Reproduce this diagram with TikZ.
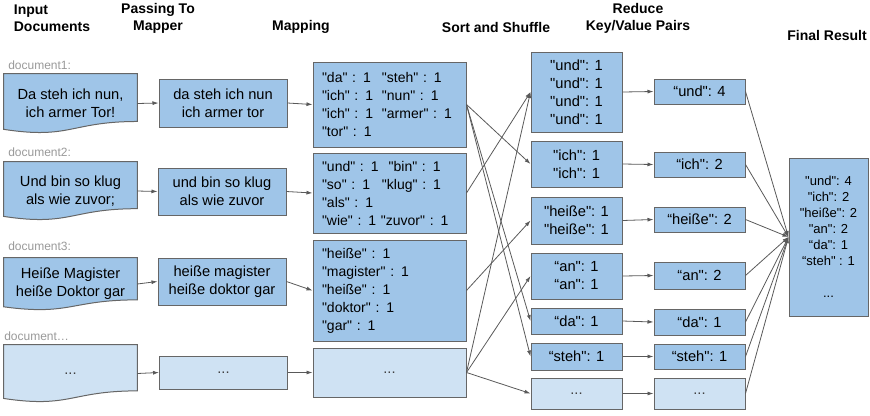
\documentclass[tikz,border=0pt]{standalone}
\usepackage{fontspec}
\setmainfont{Liberation Sans}[Ligatures=TeXOff]
\usetikzlibrary{arrows.meta,calc,backgrounds}
\definecolor{boxblue}{HTML}{9FC5E8}
\definecolor{boxpale}{HTML}{CFE2F3}
\definecolor{boxedge}{HTML}{666666}
\definecolor{linkgray}{HTML}{595959}
\definecolor{labelgray}{HTML}{999999}
\newcommand{\kv}[3]{\makebox[#1][l]{#2}#3}
\begin{document}
\begin{tikzpicture}[x=0.75pt, y=-0.75pt,
    wh/.style 2 args={minimum width=#1*0.75pt, minimum height=#2*0.75pt},
    head/.style={font=\bfseries\fontsize{10.5}{12.75}\selectfont, align=center},
    doclabel/.style={text=labelgray, font=\fontsize{9}{11}\selectfont, anchor=west, inner sep=0pt},
    docnode/.style={align=center, font=\fontsize{11}{13.5}\selectfont},
    docline/.style={draw=boxedge, line width=0.75pt},
    docpath/.style={insert path={(#1.north west) -- (#1.north east) -- ($(#1.north east)!0.802!(#1.south east)$) .. controls ($(#1.north)!0.802!(#1.south)$) and ($(#1.north)!1.1075!(#1.south)$) .. ($(#1.north west)!0.934!(#1.south west)$) -- cycle}},
    blk/.style={draw=boxedge, fill=boxblue, line width=0.75pt, align=center, font=\fontsize{11}{13.5}\selectfont},
    pale/.style={blk, fill=boxpale, text=black!75},
    kvbox/.style={blk, align=left, text width=101.25pt, inner xsep=6.75pt, minimum width=114.75pt, font=\fontsize{10.5}{13.5}\selectfont},
    fin/.style={blk, font=\fontsize{9.75}{12}\selectfont},
    link/.style={draw=linkgray, line width=0.6pt, -{Latex[length=4.5pt, width=3pt]}}]
    \useasboundingbox (0,0) rectangle (870,415);
    \node[head, align=left] (hin) at (52,18.5) {Input\\Documents};
    \node[head] (hpass) at (158,18.5) {Passing To\\Mapper};
    \node[head] (hmap) at (301,27) {Mapping};
    \node[head] (hsort) at (496,27) {Sort and Shuffle};
    \node[head] (hred) at (638,18.5) {Reduce\\Key/Value Pairs};
    \node[head] (hfin) at (827,35) {Final Result};
    \node[doclabel] (l1) at (8,65) {document1:};
    \node[doclabel] (l2) at (8,152) {document2:};
    \node[doclabel] (l3) at (8,246) {document3:};
    \node[doclabel] (l4) at (4,336) {document…};
    \node[docnode, wh={133}{59}] (d1) at (70.5,103.5) {Da steh ich nun,\\ich armer Tor!};
    \node[docnode, wh={133}{58}] (d2) at (70.5,191) {Und bin so klug\\als wie zuvor;};
    \node[docnode, wh={133}{52}] (d3) at (70.5,284) {Heiße Magister\\heiße Doktor gar};
    \node[docnode, wh={133}{57}, text=black!75] (d4) at (70.5,373.5) {...};
    \node[blk, wh={128}{48}] (p1) at (223,103) {da steh ich nun\\ich armer tor};
    \node[blk, wh={128}{47}] (p2) at (222,191.5) {und bin so klug\\als wie zuvor};
    \node[blk, wh={128}{47}] (p3) at (222,281.5) {heiße magister\\heiße doktor gar};
    \node[pale, wh={128}{33}] (p4) at (223.5,372.5) {...};
    \node[kvbox, minimum height=85*0.75pt] (m1) at (389.5,104.5) {\kv{45pt}{"da" : 1}{"steh" : 1}\\\kv{45pt}{"ich" : 1}{"nun" : 1}\\\kv{45pt}{"ich" : 1}{"armer" : 1}\\"tor" : 1};
    \node[kvbox, minimum height=80*0.75pt] (m2) at (389.5,193) {\kv{50pt}{"und" : 1}{"bin" : 1}\\\kv{45pt}{"so" : 1}{"klug" : 1}\\"als" : 1\\"wie" : 1 "zuvor" : 1};
    \node[kvbox, minimum height=101*0.75pt] (m3) at (389.5,290.5) {"heiße" : 1\\"magister" : 1\\"heiße" : 1\\"doktor" : 1\\"gar" : 1};
    \node[pale, wh={153}{49}] (m4) at (389.5,372.5) {...};
    \node[blk, wh={91}{80}] (s1) at (576.5,92) {"und": 1\\"und": 1\\"und": 1\\"und": 1};
    \node[blk, wh={91}{46}] (s2) at (576.5,164) {"ich": 1\\"ich": 1};
    \node[blk, wh={91}{47}] (s3) at (576.5,220.5) {"heiße": 1\\"heiße": 1};
    \node[blk, wh={91}{46}] (s4) at (576.5,276) {“an": 1\\“an": 1};
    \node[blk, wh={91}{26}] (s5) at (576.5,321) {“da": 1};
    \node[blk, wh={91}{27}] (s6) at (576.5,356.5) {“steh": 1};
    \node[pale, wh={91}{31}] (s7) at (576.5,393.5) {...};
    \node[blk, wh={91}{25}] (r1) at (699.5,91.5) {“und": 4};
    \node[blk, wh={91}{25}] (r2) at (699.5,164.5) {“ich": 2};
    \node[blk, wh={91}{25}] (r3) at (699.5,219.5) {“heiße": 2};
    \node[blk, wh={91}{27}] (r4) at (699.5,275.5) {“an": 2};
    \node[blk, wh={91}{26}] (r5) at (699.5,322) {“da": 1};
    \node[blk, wh={91}{25}] (r6) at (699.5,356.5) {“steh": 1};
    \node[pale, wh={91}{31}] (r7) at (699.5,393.5) {...};
    \node[fin, wh={79}{158}] (f) at (828.5,237) {"und": 4\\"ich": 2\\"heiße": 2\\"an": 2\\“da": 1\\“steh" : 1\\[12pt]...};
    \begin{scope}[on background layer]
        \draw[docline, fill=boxblue] [docpath=d1];
        \draw[docline, fill=boxblue] [docpath=d2];
        \draw[docline, fill=boxblue] [docpath=d3];
        \draw[docline, fill=boxpale] [docpath=d4];
    \end{scope}
    \draw[link] (d1.east) -- (p1.west);
    \draw[link] (d2.east) -- (p2.west);
    \draw[link] (d3.east) -- (p3.west);
    \draw[link] (d4.east) -- (p4.west);
    \draw[link] (p1.east) -- (m1.west);
    \draw[link] (p2.east) -- (m2.west);
    \draw[link] (p3.east) -- (m3.west);
    \draw[link] (p4.east) -- (m4.west);
    \draw[link] (m1.east) -- (s2.west);
    \draw[link] (m1.east) -- (s5.west);
    \draw[link] (m1.east) -- (s6.west);
    \draw[link] (m2.east) -- (s1.west);
    \draw[link] (m3.east) -- (s3.west);
    \draw[link] (m4.east) -- (s1.west);
    \draw[link] (m4.east) -- (s4.west);
    \draw[link] (m4.east) -- (s7.west);
    \draw[link] (s1.east) -- (r1.west);
    \draw[link] (s2.east) -- (r2.west);
    \draw[link] (s3.east) -- (r3.west);
    \draw[link] (s4.east) -- (r4.west);
    \draw[link] (s5.east) -- (r5.west);
    \draw[link] (s6.east) -- (r6.west);
    \draw[link] (s7.east) -- (r7.west);
    \draw[link] (r1.east) -- (f.west);
    \draw[link] (r2.east) -- (f.west);
    \draw[link] (r3.east) -- (f.west);
    \draw[link] (r4.east) -- (f.west);
    \draw[link] (r5.east) -- (f.west);
    \draw[link] (r6.east) -- (f.west);
    \draw[link] (r7.east) -- (f.west);
\end{tikzpicture}
\end{document}
